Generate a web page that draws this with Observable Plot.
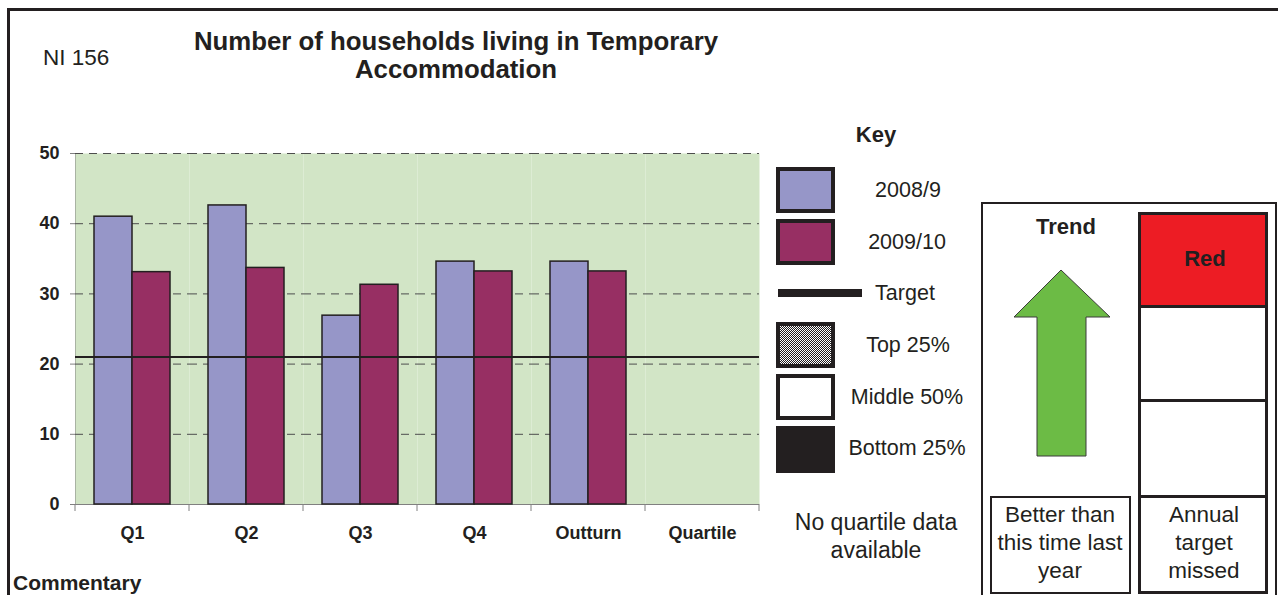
<!DOCTYPE html>
<html>
<head>
<meta charset="utf-8">
<script src="https://cdn.jsdelivr.net/npm/d3@7"></script>
<script src="https://cdn.jsdelivr.net/npm/@observablehq/plot@0.6"></script>
<style>
  html, body { margin: 0; padding: 0; background: #fff; }
  #page { position: relative; width: 1278px; height: 595px; overflow: hidden; background: #fff;
          font-family: "Liberation Sans", Arial, Helvetica, sans-serif; color: #231f20; }
  #chart { position: absolute; left: 0; top: 0; }
  #chart svg text { fill: #231f20; }
  .t { position: absolute; white-space: nowrap; line-height: 1; transform: translate(-50%, -50%); }
  .box { position: absolute; box-sizing: border-box; }
</style>
</head>
<body>
<div id="page">
  <div class="box" style="left:7px; top:8px; width:1400px; height:700px; border:3px solid #231f20;"></div>
  <div id="chart"></div>
  <div id="overlay"></div>
</div>
<script>
// ---------- data ----------
const categories = ["Q1", "Q2", "Q3", "Q4", "Outturn", "Quartile"];
const series = ["2008/9", "2009/10"];
const values0809 = [41.0, 42.6, 26.9, 34.6, 34.6];
const values0910 = [33.1, 33.7, 31.3, 33.2, 33.2];
const targetValue = 21;
const yTicks = [0, 10, 20, 30, 40, 50];
const seriesColors = ["#9696c8", "#972f63"];

const titleLines = ["Number of households living in Temporary", "Accommodation"];
const indicator = "NI 156";
const keyItems = ["2008/9", "2009/10", "Target", "Top 25%", "Middle 50%", "Bottom 25%"];
const quartileNote = ["No quartile data", "available"];
const trendLabel = "Trend";
const ragLabel = "Red";
const trendText = ["Better than", "this time last", "year"];
const ragText = ["Annual", "target", "missed"];
const commentaryLabel = "Commentary";

// ---------- chart ----------
const data = categories.slice(0, values0809.length).flatMap((c, i) => [
  {cat: c, series: series[0], value: values0809[i]},
  {cat: c, series: series[1], value: values0910[i]}
]);
// target line applies to every category band (so every band, including Quartile, is drawn)
const targetData = categories.map(c => ({cat: c, target: targetValue}));
const gridData = categories.flatMap(c => yTicks.filter(v => v > 0).map(v => ({cat: c, v})));

const chart = Plot.plot({
  width: 800,
  height: 560,
  marginLeft: 75,
  marginRight: 41,
  marginTop: 153,
  marginBottom: 56,
  style: {
    fontFamily: "'Liberation Sans', Arial, sans-serif",
    fontSize: "18px",
    fontWeight: "bold",
    color: "#808080",
    background: "transparent",
    overflow: "visible"
  },
  fx: {domain: categories, padding: 0, label: null, tickSize: 0, tickPadding: 22, axis: "bottom"},
  x: {domain: series, paddingInner: 0, paddingOuter: 0.5, axis: null},
  y: {domain: [0, 50], ticks: yTicks, tickSize: 5, tickPadding: 11, label: null, line: true},
  color: {domain: series, range: seriesColors},
  marks: [
    Plot.frame({fill: "#d2e5c6", stroke: null}),
    Plot.ruleY(gridData, {fx: "cat", y: "v", stroke: "#4d4d4d", strokeDasharray: "8,6", strokeWidth: 1}),
    Plot.ruleY([0], {stroke: "#808080"}),
    Plot.barY(data, {fx: "cat", x: "series", y: "value", fill: "series", stroke: "#231f20", strokeWidth: 1.5}),
    Plot.ruleY(targetData, {fx: "cat", y: "target", stroke: "#231f20", strokeWidth: 2})
  ]
});
document.getElementById("chart").appendChild(chart);

// boundary tick marks between the category bands (from the fx and y scales)
(function () {
  const fx = chart.scale("fx");
  const y = chart.scale("y");
  const r0 = Math.min(...fx.range), r1 = Math.max(...fx.range);
  const step = (r1 - r0) / fx.domain.length;
  const y0 = Math.max(...y.range);
  const xs = d3.range(fx.domain.length + 1).map(i => r0 + i * step);
  d3.select(chart).append("g")
    .attr("stroke", "#808080")
    .selectAll("line").data(xs).join("line")
    .attr("x1", d => d).attr("x2", d => d)
    .attr("y1", y0).attr("y2", y0 + 7);
})();

// ---------- overlay (title, key, trend panel) ----------
const overlay = document.getElementById("overlay");
function label(text, cx, cy, size, bold, extra) {
  const d = document.createElement("div");
  d.className = "t";
  d.textContent = text;
  d.style.left = cx + "px";
  d.style.top = cy + "px";
  d.style.fontSize = size + "px";
  d.style.fontWeight = bold ? "bold" : "normal";
  if (extra) Object.assign(d.style, extra);
  overlay.appendChild(d);
  return d;
}
function box(x, y, w, h, style) {
  const d = document.createElement("div");
  d.className = "box";
  Object.assign(d.style, {left: x + "px", top: y + "px", width: w + "px", height: h + "px"}, style);
  overlay.appendChild(d);
  return d;
}

// title + indicator
label(indicator, 43, 58, 22.5, false, {transform: "translate(0,-50%)"});
label(titleLines[0], 456, 42, 25.8, true);
label(titleLines[1], 456, 70, 25.8, true);

// key
label("Key", 876, 135, 22, true);
const swB = "4px solid #231f20";
box(776, 167, 59, 46, {background: seriesColors[0], border: swB});
label(keyItems[0], 908, 191, 21.5, false);
box(776, 219, 59, 46, {background: seriesColors[1], border: swB});
label(keyItems[1], 907, 243, 21.5, false);
box(778, 289, 84, 8, {background: "#231f20"});
label(keyItems[2], 905, 294, 21.5, false);
box(776, 322, 59, 46, {border: swB, backgroundImage: "repeating-conic-gradient(#231f20 0 25%, #ffffff 0 50%)", backgroundSize: "2px 2px"});
label(keyItems[3], 908, 346, 21.5, false);
box(776, 374, 59, 46, {background: "#fff", border: swB});
label(keyItems[4], 907, 398, 21.5, false);
box(776, 426, 59, 47, {background: "#231f20"});
label(keyItems[5], 907, 449, 21.5, false);
label(quartileNote[0], 876, 522, 23, false);
label(quartileNote[1], 876, 550, 23, false);

// trend panel
box(981, 202, 296, 500, {border: "2px solid #231f20"});
label(trendLabel, 1066, 227, 22, true);
box(1138, 212, 130, 96, {background: "#ed1c24", border: "3px solid #231f20"});
label(ragLabel, 1205, 259, 22, true);
box(1138, 305, 130, 97, {background: "#fff", border: "3px solid #231f20"});
box(1138, 399, 130, 99, {background: "#fff", border: "3px solid #231f20"});
box(1138, 495, 130, 99, {background: "#fff", border: "3px solid #231f20"});
box(990, 496, 141, 98, {background: "#fff", border: "2px solid #231f20"});
trendText.forEach((t, i) => label(t, 1060, 515 + i * 28, 22.5, false));
ragText.forEach((t, i) => label(t, 1204, 515 + i * 28, 22.5, false));

// arrow
const ns = "http://www.w3.org/2000/svg";
const asvg = document.createElementNS(ns, "svg");
asvg.setAttribute("width", 1278); asvg.setAttribute("height", 595);
asvg.style.position = "absolute"; asvg.style.left = "0"; asvg.style.top = "0";
const poly = document.createElementNS(ns, "polygon");
poly.setAttribute("points", "1061,270 1110,317 1086,317 1086,456 1037,456 1037,317 1014,317");
poly.setAttribute("fill", "#6cbb45");
poly.setAttribute("stroke", "#3a3a3a");
poly.setAttribute("stroke-width", "1");
asvg.appendChild(poly);
overlay.appendChild(asvg);

// commentary (kept fully visible at the bottom edge)
label(commentaryLabel, 13, 582, 21, true, {transform: "translate(0,-50%)"});
</script>
</body>
</html>
